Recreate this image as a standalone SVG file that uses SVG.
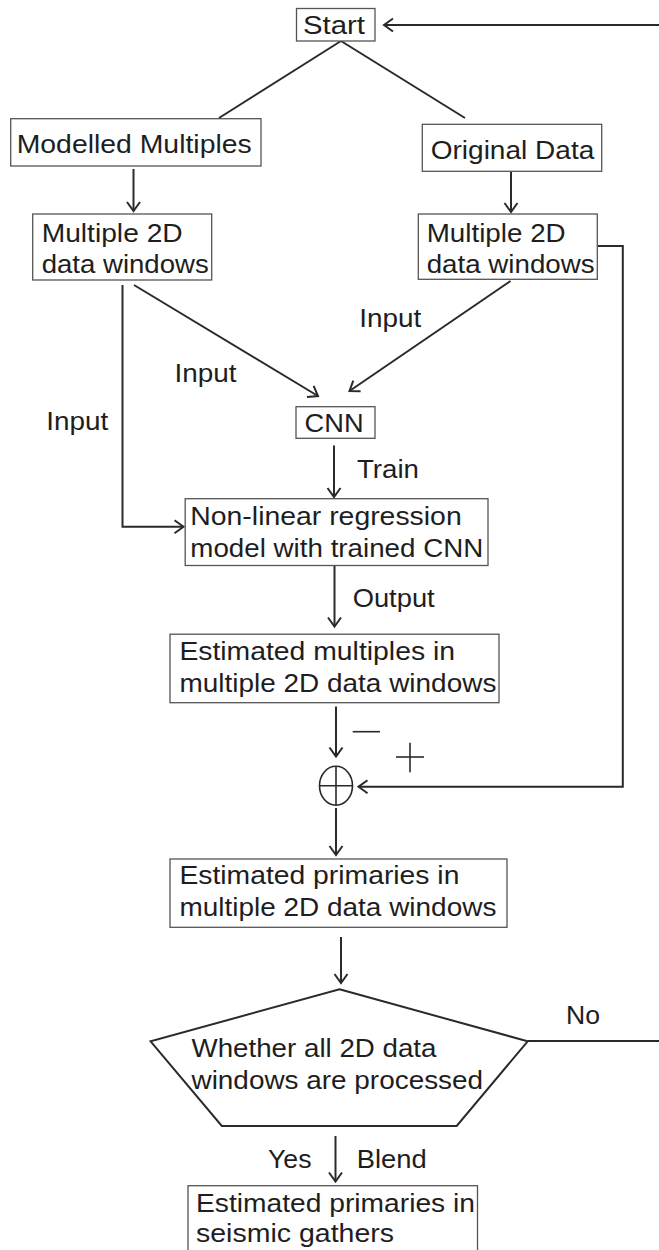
<svg xmlns="http://www.w3.org/2000/svg" width="659" height="1250" viewBox="0 0 659 1250">
  <style>
    .box { fill: #ffffff; stroke: #555555; stroke-width: 1.3; }
    .edge { fill: none; stroke: #2a2a2a; stroke-width: 2; }
    .thin { fill: none; stroke: #2a2a2a; stroke-width: 1.6; }
    text { font-family: "Liberation Sans", Arial, sans-serif; font-size: 25px; fill: #1e1e1e; }
  </style>
  <defs>
    <marker id="arr" viewBox="-11 -8 13 16" refX="0" refY="0" markerWidth="13" markerHeight="16" markerUnits="userSpaceOnUse" orient="auto">
      <path d="M-9,-6.5 L0,0 L-9,6.5" fill="none" stroke="#2a2a2a" stroke-width="2"/>
    </marker>
  </defs>
  <rect width="659" height="1250" fill="#ffffff"/>

  <g id="connectors">
    <line class="edge" x1="659" y1="25" x2="384" y2="25" marker-end="url(#arr)"/>
    <line class="edge" x1="341" y1="41" x2="219" y2="118"/>
    <line class="edge" x1="341" y1="41" x2="465" y2="118"/>
    <line class="edge" x1="133.5" y1="169" x2="133.5" y2="211" marker-end="url(#arr)"/>
    <line class="edge" x1="511" y1="172" x2="511" y2="212" marker-end="url(#arr)"/>
    <line class="edge" x1="134" y1="285" x2="318" y2="396" marker-end="url(#arr)"/>
    <line class="edge" x1="510.5" y1="281" x2="349.5" y2="391" marker-end="url(#arr)"/>
    <path class="edge" d="M122.5,285 V526.7 H183.5" marker-end="url(#arr)"/>
    <line class="edge" x1="334" y1="445.5" x2="334" y2="497" marker-end="url(#arr)"/>
    <line class="edge" x1="334.5" y1="566" x2="334.5" y2="626.5" marker-end="url(#arr)"/>
    <line class="edge" x1="336" y1="706.5" x2="336" y2="756.5" marker-end="url(#arr)"/>
    <path class="edge" d="M597.5,246 H622.8 V786.7 H358.5" marker-end="url(#arr)"/>
    <line class="edge" x1="336" y1="808" x2="336" y2="855" marker-end="url(#arr)"/>
    <line class="edge" x1="341" y1="937" x2="341" y2="983" marker-end="url(#arr)"/>
    <line class="edge" x1="527.7" y1="1041" x2="659" y2="1041"/>
    <line class="edge" x1="335.5" y1="1136" x2="335.5" y2="1181.5" marker-end="url(#arr)"/>
    <line class="thin" x1="352.7" y1="731.7" x2="380" y2="731.7"/>
    <line class="thin" x1="396" y1="757" x2="424" y2="757"/>
    <line class="thin" x1="410" y1="742.7" x2="410" y2="772.3"/>
  </g>

  <g id="edge-labels">
    <text x="359.2" y="326.7" textLength="62" lengthAdjust="spacingAndGlyphs">Input</text>
    <text x="174.4" y="381.7" textLength="62" lengthAdjust="spacingAndGlyphs">Input</text>
    <text x="46.2" y="430" textLength="62" lengthAdjust="spacingAndGlyphs">Input</text>
    <text x="357" y="478.3" textLength="62" lengthAdjust="spacingAndGlyphs">Train</text>
    <text x="352.7" y="606.5" textLength="82" lengthAdjust="spacingAndGlyphs">Output</text>
    <text x="566" y="1024" textLength="34" lengthAdjust="spacingAndGlyphs">No</text>
    <text x="268" y="1167.5" textLength="43.5" lengthAdjust="spacingAndGlyphs">Yes</text>
    <text x="356.7" y="1167.5" textLength="70" lengthAdjust="spacingAndGlyphs">Blend</text>
  </g>

  <g id="start">
    <rect class="box" x="296.5" y="8.5" width="78.5" height="32.5"/>
    <text x="303" y="34.3" textLength="62" lengthAdjust="spacingAndGlyphs">Start</text>
  </g>

  <g id="modelled-multiples">
    <rect class="box" x="10.7" y="118.7" width="250.3" height="47.3"/>
    <text x="16.7" y="153" textLength="235" lengthAdjust="spacingAndGlyphs">Modelled Multiples</text>
  </g>

  <g id="original-data">
    <rect class="box" x="422.3" y="124.3" width="179.4" height="47"/>
    <text x="430.7" y="159" textLength="163.6" lengthAdjust="spacingAndGlyphs">Original Data</text>
  </g>

  <g id="windows-left">
    <rect class="box" x="32.7" y="214" width="179" height="66"/>
    <text x="41.7" y="241.7" textLength="141" lengthAdjust="spacingAndGlyphs">Multiple 2D</text>
    <text x="41.7" y="273.3" textLength="167" lengthAdjust="spacingAndGlyphs">data windows</text>
  </g>

  <g id="windows-right">
    <rect class="box" x="418.3" y="214" width="179" height="65.3"/>
    <text x="426.7" y="241.7" textLength="139" lengthAdjust="spacingAndGlyphs">Multiple 2D</text>
    <text x="426.7" y="273" textLength="168" lengthAdjust="spacingAndGlyphs">data windows</text>
  </g>

  <g id="cnn">
    <rect class="box" x="296" y="406.7" width="79" height="31.6"/>
    <text x="304.6" y="431.7" textLength="59" lengthAdjust="spacingAndGlyphs">CNN</text>
  </g>

  <g id="regression">
    <rect class="box" x="185.2" y="498.7" width="302.8" height="66.8"/>
    <text x="190.3" y="525.3" textLength="271.4" lengthAdjust="spacingAndGlyphs">Non-linear regression</text>
    <text x="190.3" y="556.7" textLength="293" lengthAdjust="spacingAndGlyphs">model with trained CNN</text>
  </g>

  <g id="estimated-multiples">
    <rect class="box" x="170" y="634.2" width="329" height="68.5"/>
    <text x="179.4" y="660" textLength="275.6" lengthAdjust="spacingAndGlyphs">Estimated multiples in</text>
    <text x="179.4" y="691.7" textLength="317" lengthAdjust="spacingAndGlyphs">multiple 2D data windows</text>
  </g>

  <g id="sum">
    <ellipse cx="336" cy="785.7" rx="16.5" ry="19.5" fill="#ffffff" stroke="#2a2a2a" stroke-width="1.6"/>
    <line x1="319.5" y1="785.7" x2="352.5" y2="785.7" stroke="#2a2a2a" stroke-width="1.6"/>
    <line x1="336" y1="766.2" x2="336" y2="805.2" stroke="#2a2a2a" stroke-width="1.6"/>
  </g>

  <g id="estimated-primaries">
    <rect class="box" x="170" y="859" width="337" height="68.3"/>
    <text x="179.4" y="884" textLength="280" lengthAdjust="spacingAndGlyphs">Estimated primaries in</text>
    <text x="179.4" y="915.7" textLength="317" lengthAdjust="spacingAndGlyphs">multiple 2D data windows</text>
  </g>

  <g id="decision">
    <polygon points="339.5,989.3 527.7,1041.3 456.7,1126 221.8,1126 150.6,1041.3" fill="#ffffff" stroke="#2a2a2a" stroke-width="2"/>
    <text x="191.5" y="1057" textLength="245" lengthAdjust="spacingAndGlyphs">Whether all 2D data</text>
    <text x="191.5" y="1089" textLength="291.6" lengthAdjust="spacingAndGlyphs">windows are processed</text>
  </g>

  <g id="final">
    <rect class="box" x="188" y="1185.7" width="289.5" height="80"/>
    <text x="196" y="1211.7" textLength="279" lengthAdjust="spacingAndGlyphs">Estimated primaries in</text>
    <text x="196" y="1241.7" textLength="198" lengthAdjust="spacingAndGlyphs">seismic gathers</text>
  </g>
</svg>
